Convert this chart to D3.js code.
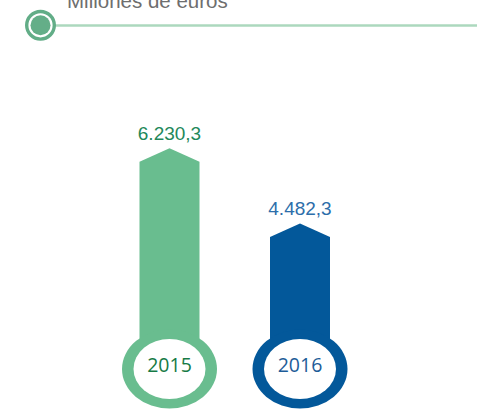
<!DOCTYPE html>
<html>
<head>
<meta charset="utf-8">
<script src="https://cdn.jsdelivr.net/npm/d3@7"></script>
<style>
  body { margin: 0; background: #fff; }
  svg { display: block; }
</style>
</head>
<body>
<svg width="477" height="410"></svg>
<script>
const years = ['2015', '2016']
const values = [6230.3, 4482.3]
const valueLabels = ['6.230,3', '4.482,3']
const unitLabel = 'Millones de euros'

const barColors = ['#69bd8f', '#03589a']
const labelColors = ['#23885a', '#2d6eaa']
const yearColors = ['#167a45', '#1d5c98']

const svg = d3.select('svg')

// header: bullet + rule + unit text
svg.append('line')
    .attr('x1', 54).attr('x2', 477)
    .attr('y1', 25.5).attr('y2', 25.5)
    .attr('stroke', '#acd8be')
    .attr('stroke-width', 2.5)
svg.append('circle')
    .attr('cx', 40.5).attr('cy', 25.3).attr('r', 13.8)
    .attr('fill', '#fff')
    .attr('stroke', '#62ad87')
    .attr('stroke-width', 3.4)
svg.append('circle')
    .attr('cx', 40.5).attr('cy', 25.3).attr('r', 10)
    .attr('fill', '#64ae88')
svg.append('text')
    .attr('x', 67).attr('y', 7.5)
    .attr('font-family', 'Liberation Sans, Arial, sans-serif')
    .attr('font-size', 20.5)
    .attr('fill', '#6e6e6e')
    .text(unitLabel)

const x = d3.scalePoint()
    .domain(years)
    .range([169.5, 300])
const y = d3.scaleLinear()
    .domain([0, 7000])
    .range([416.4, 115.2])

const barW = 60, headH = 13.5
const ringCy = 369

const data = years.map((yr, i) => ({ year: yr, value: values[i], label: valueLabels[i], i }))

const g = svg.selectAll('g.bar')
    .data(data)
    .enter().append('g')
    .attr('class', 'bar')

// arrow bars
g.append('path')
    .attr('fill', d => barColors[d.i])
    .attr('d', d => {
        const cx = x(d.year), top = y(d.value)
        const l = cx - barW / 2, r = cx + barW / 2
        return `M${l},${ringCy}L${l},${top + headH}L${cx},${top}L${r},${top + headH}L${r},${ringCy}Z`
    })

// rings
g.append('ellipse')
    .attr('cx', d => x(d.year)).attr('cy', ringCy)
    .attr('rx', 47.5).attr('ry', 39.5)
    .attr('fill', d => barColors[d.i])
g.append('ellipse')
    .attr('cx', d => x(d.year)).attr('cy', ringCy)
    .attr('rx', 36).attr('ry', 30)
    .attr('fill', '#fff')

g.append('text')
    .attr('x', d => x(d.year)).attr('y', 371.7)
    .attr('text-anchor', 'middle')
    .attr('font-family', 'Open Sans, sans-serif')
    .attr('font-size', 19.5)
    .attr('fill', d => yearColors[d.i])
    .text(d => d.year)

// value labels
g.append('text')
    .attr('x', d => x(d.year)).attr('y', d => y(d.value) - 8.5)
    .attr('text-anchor', 'middle')
    .attr('font-family', 'Liberation Sans, Arial, sans-serif')
    .attr('font-size', 19)
    .attr('fill', d => labelColors[d.i])
    .text(d => d.label)
</script>
</body>
</html>
